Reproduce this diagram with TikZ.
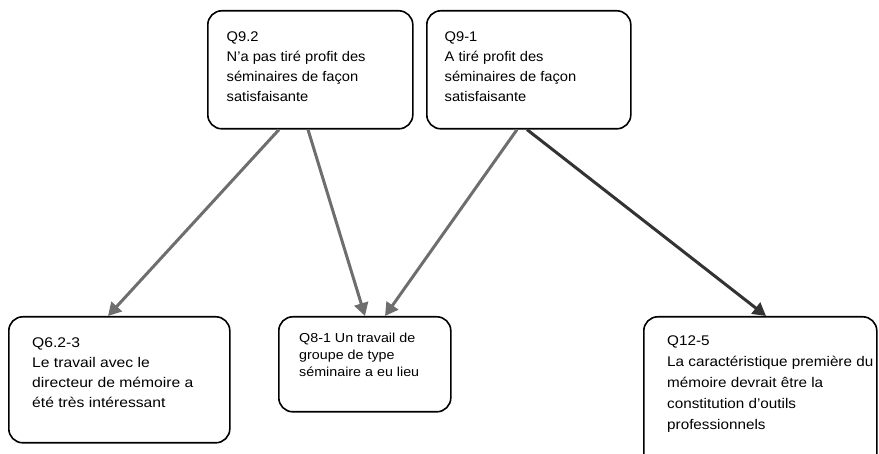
\documentclass[tikz,border=0pt]{standalone}
\usepackage{fontspec}
\setmainfont{Liberation Sans}
\newfontfamily\fnA[FakeStretch=1.05]{Liberation Sans}
\newfontfamily\fnB[FakeStretch=1.12]{Liberation Sans}
\newfontfamily\fnC[FakeStretch=1.09]{Liberation Sans}
\newfontfamily\fnD[FakeStretch=1.10]{Liberation Sans}
\usetikzlibrary{calc,arrows.meta}
\definecolor{arrgray}{HTML}{6E6E6E}
\definecolor{arrdark}{HTML}{333333}
\begin{document}
\begin{tikzpicture}[x=1pt,y=-1pt,
  box/.style={draw=black, line width=1.6pt, rounded corners=14pt, inner sep=0pt, anchor=north west, fill=white},
  txt/.style={anchor=north west, inner sep=0pt, align=left},
  conn/.style={draw=arrgray, line width=3pt, -{Triangle[length=13pt,width=14pt]}},
  conndark/.style={draw=arrdark, line width=3pt, -{Triangle[length=13pt,width=14pt]}}]
\useasboundingbox (0,0) rectangle (879,454);
\clip (0,0) rectangle (879,454);
% boxes
\node[box, minimum width=205pt, minimum height=118pt] (q92) at (207,10) {};
\node[box, minimum width=204pt, minimum height=118pt] (q91) at (426,10) {};
\node[box, minimum width=221pt, minimum height=126pt] (q623) at (8,316) {};
\node[box, minimum width=172pt, minimum height=95pt] (q81) at (278,316) {};
\node[box, minimum width=233pt, minimum height=170pt] (q125) at (643,316) {};
% texts
\node[txt, font=\fnA\fontsize{14}{20}\selectfont] (t92) at ($(q92.north west)+(19.5,21.5)$) {Q9.2\\N’a pas tiré profit des\\séminaires de façon\\satisfaisante};
\node[txt, font=\fnA\fontsize{14}{20}\selectfont] (t91) at ($(q91.north west)+(18.5,21.5)$) {Q9-1\\A tiré profit des\\séminaires de façon\\satisfaisante};
\node[txt, font=\fnB\fontsize{14}{20}\selectfont] (t623) at ($(q623.north west)+(24,22)$) {Q6.2-3\\Le travail avec le\\directeur de mémoire a\\été très intéressant};
\node[txt, font=\fnD\fontsize{13}{16.7}\selectfont] (t81) at ($(q81.north west)+(21,17)$) {Q8-1 Un travail de\\groupe de type\\séminaire a eu lieu};
\node[txt, font=\fnC\fontsize{14}{20.8}\selectfont] (t125) at ($(q125.north west)+(24,20)$) {Q12-5\\La caractéristique première du\\mémoire devrait être la\\constitution d’outils\\professionnels};
% connectors
\draw[conn] ($(q92.south west)+(72,0)$) -- ($(q623.north west)+(100,0)$);
\draw[conn] ($(q92.south west)+(101,0)$) -- ($(q81.north west)+(87,0)$);
\draw[conn] ($(q91.south west)+(91,0)$) -- ($(q81.north west)+(107,0)$);
\draw[conndark] ($(q91.south west)+(101,0)$) -- ($(q125.north west)+(123,0)$);
\end{tikzpicture}
\end{document}
